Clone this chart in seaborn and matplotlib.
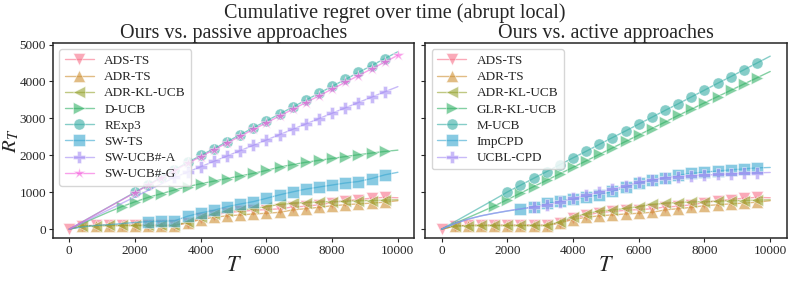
import numpy as np
import pandas as pd
import matplotlib
matplotlib.use("Agg")
import matplotlib.pyplot as plt
import seaborn as sns

# time grid (every 400 steps)
T = list(range(0, 10001, 400))

# shared "ours" approaches
ads_ts = [0, 90, 105, 110, 110, 110, 110, 110, 110, 170, 290, 380, 450, 480, 510, 530,
          550, 600, 620, 660, 720, 770, 800, 840, 860, 850]
adr_ts = [0, 85, 95, 95, 95, 95, 95, 95, 95, 170, 260, 320, 360, 385, 410, 430,
          455, 520, 555, 590, 635, 660, 685, 705, 730, 770]
adr_kl_ucb = [0, 80, 95, 100, 100, 100, 100, 100, 100, 200, 320, 420, 490, 520, 560, 610,
              670, 700, 720, 735, 745, 755, 770, 775, 785, 795]

# passive approaches
d_ucb = [0, 155, 310, 465, 610, 740, 860, 960, 1060, 1150, 1230, 1300, 1370, 1440, 1510, 1590,
         1680, 1750, 1810, 1865, 1915, 1965, 2015, 2060, 2105, 2140]
rexp3 = [0, 200, 400, 600, 800, 1000, 1200, 1405, 1610, 1805, 1995, 2180, 2370, 2555, 2745, 2930,
         3120, 3305, 3495, 3680, 3870, 4055, 4245, 4430, 4620, 4805]
sw_ts = [0, 60, 100, 120, 150, 180, 205, 215, 225, 350, 440, 510, 610, 680, 745, 835,
         930, 1010, 1085, 1140, 1195, 1250, 1290, 1370, 1470, 1540]
sw_ucb_a = [0, 175, 350, 525, 700, 875, 1050, 1225, 1400, 1545, 1690, 1835, 1980, 2125, 2270, 2415,
            2560, 2705, 2850, 2995, 3140, 3285, 3430, 3575, 3720, 3860]
sw_ucb_g = [0, 198, 396, 594, 792, 990, 1188, 1390, 1590, 1780, 1965, 2150, 2335, 2515, 2700, 2880,
            3065, 3245, 3430, 3610, 3795, 3975, 4160, 4340, 4525, 4710]

# active approaches
glr_kl_ucb = [0, 155, 310, 465, 625, 800, 975, 1150, 1325, 1500, 1675, 1850, 2025, 2200, 2375, 2550,
              2725, 2900, 3080, 3250, 3420, 3590, 3760, 3930, 4100, 4270]
m_ucb = [0, 200, 400, 600, 800, 1005, 1190, 1375, 1560, 1745, 1930, 2110, 2295, 2480, 2660, 2845,
         3030, 3215, 3395, 3580, 3765, 3950, 4130, 4315, 4500, 4685]
imp_cpd = [0, 150, 270, 360, 430, 490, 545, 610, 700, 750, 810, 870, 930, 1020, 1140, 1250,
           1320, 1390, 1460, 1510, 1545, 1575, 1605, 1630, 1660, 1670]
ucbl_cpd = [0, 150, 270, 360, 430, 495, 550, 590, 660, 740, 830, 920, 1010, 1080, 1170, 1270,
            1340, 1390, 1425, 1450, 1465, 1480, 1495, 1515, 1525, 1535]

passive = [("ADS-TS", ads_ts, "v", 0), ("ADR-TS", adr_ts, "^", 1),
           ("ADR-KL-UCB", adr_kl_ucb, "<", 1), ("D-UCB", d_ucb, ">", 4),
           ("RExp3", rexp3, "o", 5), ("SW-TS", sw_ts, "s", 6),
           ("SW-UCB#-A", sw_ucb_a, "P", 8), ("SW-UCB#-G", sw_ucb_g, "*", 5)]
active = [("ADS-TS", ads_ts, "v", 0), ("ADR-TS", adr_ts, "^", 1),
          ("ADR-KL-UCB", adr_kl_ucb, "<", 1), ("GLR-KL-UCB", glr_kl_ucb, ">", 4),
          ("M-UCB", m_ucb, "o", 5), ("ImpCPD", imp_cpd, "s", 6),
          ("UCBL-CPD", ucbl_cpd, "P", 7)]

sns.set_style("ticks")
plt.rcParams['font.family'] = ['Liberation Serif', 'DejaVu Serif']
plt.rcParams['mathtext.fontset'] = 'stix'
plt.rcParams['axes.linewidth'] = 1.1

colors = sns.color_palette("husl", 8)

fig, axes = plt.subplots(1, 2, figsize=(7.89, 2.82), dpi=100, sharey=True)
fig.subplots_adjust(left=0.067, right=0.997, bottom=0.156, top=0.848, wspace=0.03)

for ax, series, title in [(axes[0], passive, "Ours vs. passive approaches"),
                          (axes[1], active, "Ours vs. active approaches")]:
    for i, (name, vals, mk, start) in enumerate(series):
        df = pd.DataFrame({"T": T, "R": vals})
        stop = 26 if mk == "*" else 25
        ms = 9 if mk == "*" else 8
        sns.lineplot(data=df, x="T", y="R", ax=ax, color=colors[i], marker=mk,
                     markersize=ms, markevery=slice(start, stop), alpha=0.6,
                     linewidth=1, markeredgewidth=0.5, label=name)
    ax.set_title(title, fontsize=14.5, pad=3)
    ax.set_xlabel("$T$", fontsize=16, labelpad=0)
    ax.set_ylabel("")
    ax.set_xticks([0, 2000, 4000, 6000, 8000, 10000])
    ax.tick_params(labelsize=9.5, length=3, pad=2)
    ax.legend(loc="upper left", fontsize=9.5, framealpha=0.8, handlelength=2.2,
              borderaxespad=0.5, labelspacing=0.3, borderpad=0.4)

axes[0].set_yticks([0, 1000, 2000, 3000, 4000, 5000])
axes[0].set_ylabel("$R_T$", fontsize=15)
axes[0].yaxis.set_label_coords(-0.087, 0.5)
fig.suptitle("Cumulative regret over time (abrupt local)", fontsize=14.5, y=0.99)

fig.savefig("out.png", dpi=100)
